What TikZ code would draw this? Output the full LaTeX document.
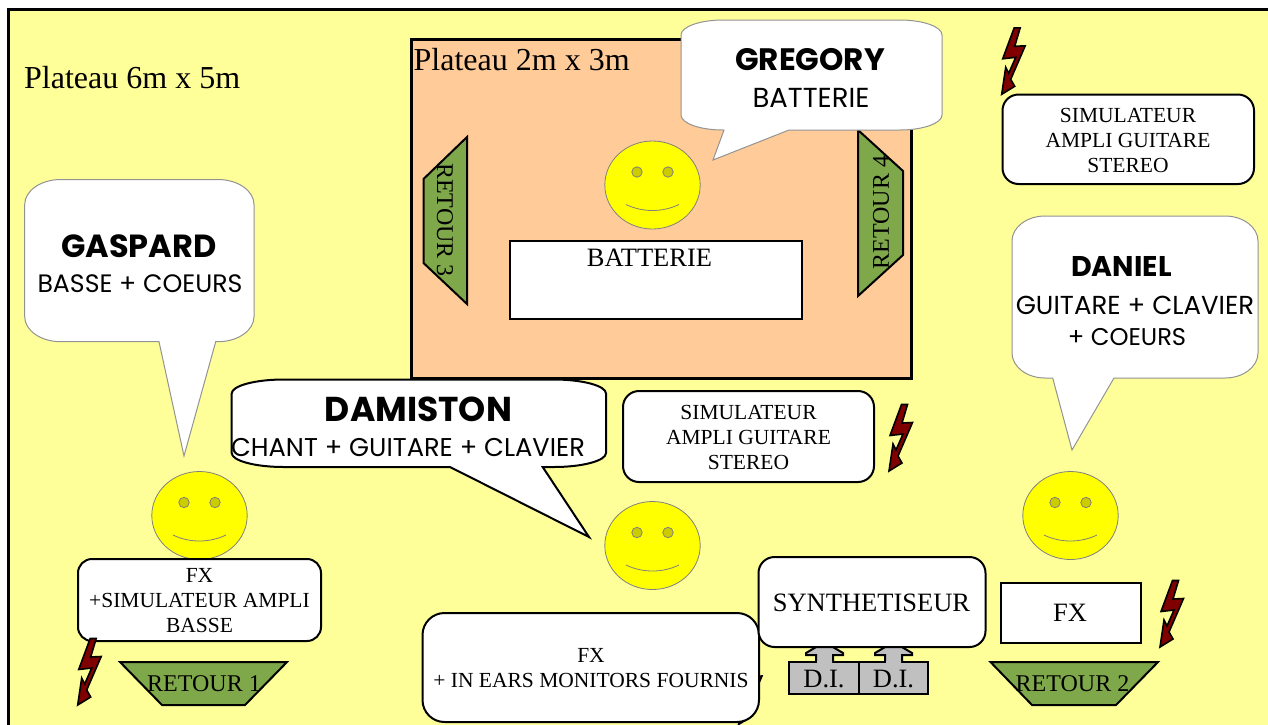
\documentclass[tikz,border=0pt]{standalone}
\usepackage{fontspec}
\setmainfont{Liberation Serif}
\newfontfamily\comic{Poppins}
\definecolor{bgyellow}{HTML}{FFFF99}
\definecolor{stage}{HTML}{FFCC99}
\definecolor{retgreen}{HTML}{7FA84A}
\definecolor{digray}{HTML}{C0C0C0}
\definecolor{faceyellow}{HTML}{FFFF00}
\definecolor{eyeyellow}{HTML}{CCCC00}
\definecolor{boltred}{HTML}{800000}
\newcommand{\tsize}[1]{\fontsize{#1}{#1}\selectfont}
\newcommand{\nsize}[1]{\comic\bfseries\fontsize{#1}{#1}\selectfont}
\newcommand{\rsize}[1]{\comic\fontsize{#1}{#1}\selectfont}
% speech bubble: style; x1,y1,x2,y2; rx,ry; tail base left, tail base right, tip x, tip y
\newcommand{\speech}[9]{%
 \def\bst{#1}\def\xa{#2}\def\ya{#3}\def\xb{#4}\def\yb{#5}\def\rx{#6}\def\ry{#7}\def\tl{#8}\def\tr{#9}\speechcont}
\newcommand{\speechcont}[2]{%
 \pgfmathsetmacro\xai{\xa+\rx}\pgfmathsetmacro\xbi{\xb-\rx}%
 \pgfmathsetmacro\yai{\ya+\ry}\pgfmathsetmacro\ybi{\yb-\ry}%
 \pgfmathsetmacro\kx{0.45*\rx}\pgfmathsetmacro\ky{0.45*\ry}%
 \pgfmathsetmacro\xac{\xa+\kx}\pgfmathsetmacro\xbc{\xb-\kx}%
 \pgfmathsetmacro\yac{\ya+\ky}\pgfmathsetmacro\ybc{\yb-\ky}%
 \path[\bst] (\xai,\ya) -- (\xbi,\ya)
  .. controls (\xbc,\ya) and (\xb,\yac) .. (\xb,\yai) -- (\xb,\ybi)
  .. controls (\xb,\ybc) and (\xbc,\yb) .. (\xbi,\yb) -- (\tr,\yb) -- (#1,#2) -- (\tl,\yb) -- (\xai,\yb)
  .. controls (\xac,\yb) and (\xa,\ybc) .. (\xa,\ybi) -- (\xa,\yai)
  .. controls (\xa,\yac) and (\xac,\ya) .. (\xai,\ya) -- cycle;}
\tikzset{
 x=1pt,y=-1pt,
 frameline/.style={draw=black,line width=3pt},
 box/.style={draw=black,line width=2pt,fill=white},
 softbubble/.style={draw=gray!85,line width=1pt,fill=white},
 hardbubble/.style={draw=black,line width=2pt,fill=white},
 wedge/.style={draw=black,line width=2pt,fill=retgreen,line join=miter},
 dibox/.style={draw=black,line width=2pt,fill=digray},
 serif/.style={inner sep=0pt,align=center,text=black},
 small/.style={serif,font=\fontsize{21.5}{25}\selectfont},
 mid/.style={serif,font=\tsize{24}},
 large/.style={serif,font=\tsize{26.5}},
 big/.style={serif,font=\tsize{32}},
 lettering/.style={inner sep=0pt},
 smileface/.pic={
  \path[draw=gray,line width=.8pt,fill=faceyellow] (0,0) ellipse [x radius=47.7,y radius=44];
  \path[draw=gray,line width=.8pt,fill=eyeyellow] (-15.5,-13) circle [radius=5.2] (15.5,-13) circle [radius=5.2];
  \path[draw=gray,line width=.8pt] (-26.5,19.5) .. controls (-10,27.5) and (10,27.5) .. (26.5,19.5);
 },
 boltshape/.pic={
  \path[draw=black,line width=1.6pt,fill=boltred,line join=miter]
   (12.5,.5) -- (18.5,.5) -- (13,19) -- (23.5,18.5) -- (9,52) -- (13,59) -- (0,67)
   -- (4,40) -- (7,46) -- (14,30) -- (1,31.5) -- cycle;
 },
}
\begin{document}
\begin{tikzpicture}
\useasboundingbox (0,0) rectangle (1268,724);
\path[fill=white] (0,0) rectangle (1268,724);
% ground
\path[fill=bgyellow,frameline] (8.7,9.7) rectangle (1275,735);
\node[big,anchor=west] (plat6) at (24,78) {Plateau 6m x 5m};
% stage
\path[fill=stage,frameline] (411.5,39) rectangle (911.5,378);
\node[big,anchor=west] (plat2) at (413.5,60) {Plateau 2m x 3m};
\path[box] (510,241) rectangle (802,319);
\node[large] (batt) at (649.5,257.5) {BATTERIE};
\path[wedge] (467,137) -- (423.5,179) -- (423.5,263) -- (467,304) -- cycle;
\node[mid,rotate=-90] (ret3) at (445,220) {RETOUR 3};
\path[wedge] (858,130) -- (903,171) -- (903,255) -- (858,296) -- cycle;
\node[mid,rotate=90] (ret4) at (881,212.5) {RETOUR 4};
\pic at (652.5,185) {smileface};
\speech{softbubble}{681}{20}{942}{130}{42}{15}{724}{789}{713}{160}
\node[lettering,font=\nsize{31}] (gregory) at (810,60) {GREGORY};
\node[lettering,font=\rsize{27.5}] (gregrole) at (811,98) {BATTERIE};
% Gaspard
\speech{softbubble}{24.7}{179.5}{254}{341.7}{36}{25}{159}{215.7}{184}{456}
\node[lettering,font=\nsize{32}] (gaspard) at (139,246) {GASPARD};
\node[lettering,font=\rsize{25.2}] (gasprole) at (140,284) {BASSE + COEURS};
\pic at (199.5,515.5) {smileface};
\path[box,rounded corners=14pt] (78,559) rectangle (321,641);
\node[small] (fx1) at (199.5,601) {FX\\+SIMULATEUR AMPLI\\BASSE};
\pic at (77.7,638) {boltshape};
\path[wedge] (120,662) -- (287,662) -- (245,705) -- (162,705) -- cycle;
\node[mid] (ret1) at (204,684) {RETOUR 1};
% Damiston
\speech{hardbubble}{231.7}{379.5}{606}{467}{52}{14}{450}{542.7}{589}{537}
\node[lettering,font=\nsize{34.5}] (damiston) at (418.5,409) {DAMISTON};
\node[lettering,font=\rsize{25.7}] (damrole) at (408,448) {CHANT + GUITARE + CLAVIER};
\pic at (652.5,545.5) {smileface};
\pic at (738.5,657.5) {boltshape};
\path[box,rounded corners=22pt] (422.5,613) rectangle (759,722);
\node[small] (fx3) at (591,668.5) {FX\\+ IN EARS MONITORS FOURNIS};
% simulators
\path[box,rounded corners=16pt] (623,391) rectangle (874,482);
\node[small] (sim1) at (748.5,437.5) {SIMULATEUR\\AMPLI GUITARE\\STEREO};
\pic at (889,404) {boltshape};
\path[box,rounded corners=16pt] (1002.5,94.5) rectangle (1254,184);
\node[small] (sim2) at (1128,140.5) {SIMULATEUR\\AMPLI GUITARE\\STEREO};
\pic at (1001.7,27.3) {boltshape};
% synth
\path[dibox] (816,664) -- (816,655) -- (806,655) -- (806,653) -- (824.5,642) -- (843,653) -- (843,655) -- (833,655) -- (833,664) -- cycle;
\path[dibox] (885,664) -- (885,655) -- (875,655) -- (875,653) -- (893.5,642) -- (912,653) -- (912,655) -- (902,655) -- (902,664) -- cycle;
\path[box,rounded corners=16pt] (758.5,557) rectangle (985.5,647);
\node[large] (synth) at (871.5,603) {SYNTHETISEUR};
\path[dibox] (789,662) rectangle (859,694);
\path[dibox] (859,662) rectangle (928,694);
\path[fill=digray] (817,661) rectangle (832,664) (886,661) rectangle (901,664);
\node[large] (di1) at (824,679) {D.I.};
\node[large] (di2) at (893.5,679) {D.I.};
% Daniel
\speech{softbubble}{1012}{216}{1258}{378}{33}{25}{1052.7}{1114}{1072}{450}
\node[lettering,font=\nsize{28.5}] (daniel) at (1121.5,266) {DANIEL};
\node[lettering,font=\rsize{26}] (danrole1) at (1135,305) {GUITARE + CLAVIER};
\node[lettering,font=\rsize{24.2}] (danrole2) at (1127,337) {+ COEURS};
\pic at (1070.5,515.5) {smileface};
\path[box] (1000.5,582.5) rectangle (1141,643);
\node[large] (fx2) at (1070,613) {FX};
\pic at (1160,580) {boltshape};
\path[wedge] (990.5,662) -- (1158,662) -- (1116,705) -- (1032,705) -- cycle;
\node[mid] (ret2) at (1072.5,684) {RETOUR 2};
\end{tikzpicture}
\end{document}
